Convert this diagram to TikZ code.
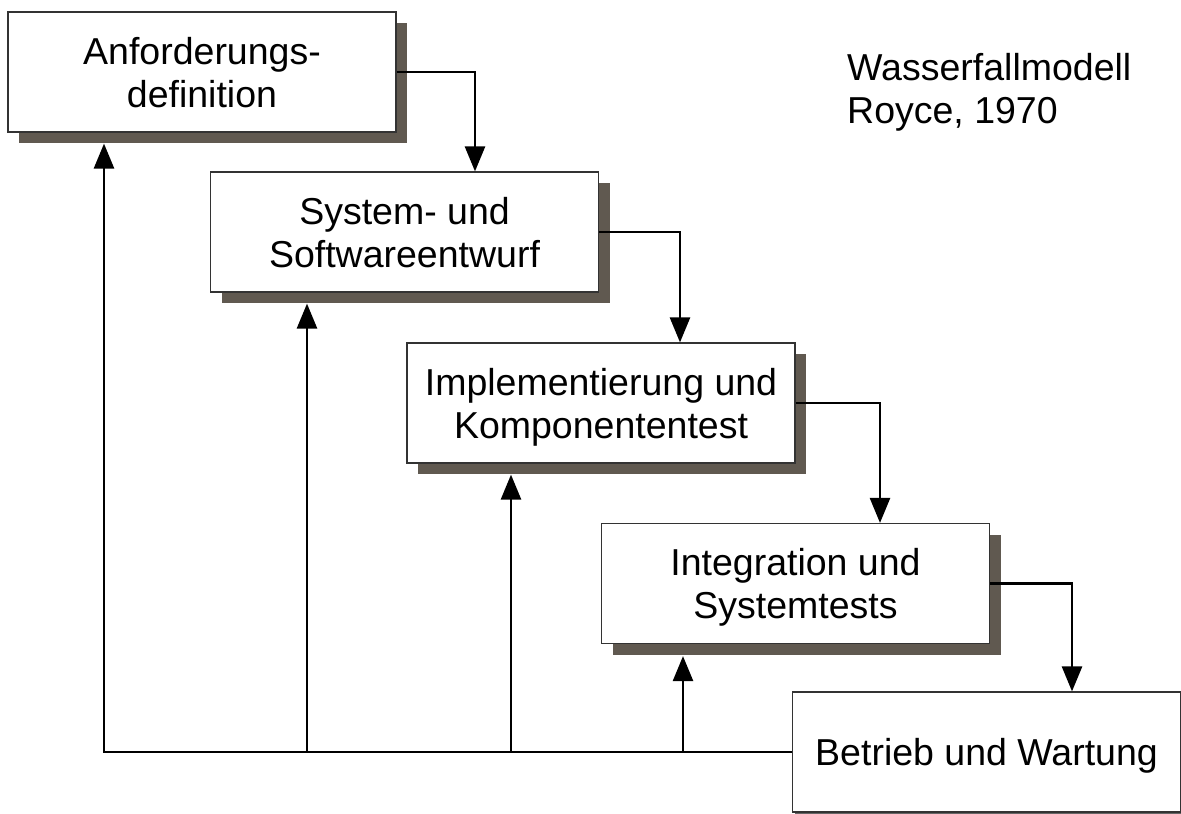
\documentclass[tikz,border=0pt]{standalone}
\usepackage{fontspec}
\setmainfont{Liberation Sans}
\usetikzlibrary{arrows.meta,shadows,calc}
\definecolor{shadowc}{RGB}{96,89,80}
\begin{document}
\begin{tikzpicture}[x=1pt,y=-1pt,
  phase/.style={draw=black!80, line width=1.2pt, fill=white, inner sep=0pt,
    minimum width=388pt, minimum height=120pt, align=center, text depth=0pt,
    font=\fontsize{37.5}{43}\selectfont},
  shadowed/.style={drop shadow={shadow xshift=11pt, shadow yshift=-11pt, fill=shadowc, opacity=1, draw=none}},
  conn/.style={line width=2.6pt, -{Triangle[length=25pt,width=20pt]}},
  plain/.style={line width=2.6pt}]
\useasboundingbox (0,0) rectangle (1181,814);
\node[phase,shadowed] (b1) at (202,72) {Anforderungs-\\definition};
\node[phase,shadowed] (b2) at (404.5,232) {System- und\\Softwareentwurf};
\node[phase,shadowed] (b3) at (601,403) {Implementierung und\\Komponententest};
\node[phase,shadowed] (b4) at (795.5,583.5) {Integration und\\Systemtests};
\node[phase,drop shadow={shadow xshift=2pt, shadow yshift=-2pt, fill=black!60, opacity=1, draw=none}] (b5) at (986.5,752) {Betrieb und Wartung};
\node[anchor=north west, inner sep=0pt, align=left, font=\fontsize{37.5}{43}\selectfont] (title) at (847,53) {Wasserfallmodell\\Royce, 1970};
% forward connectors
\coordinate (k1) at (475,0);
\coordinate (k2) at (680,0);
\coordinate (k3) at (880,0);
\coordinate (k4) at (1072,0);
\draw[conn] (b1.east) -| (k1 |- b2.north);
\draw[conn] (b2.east) -| (k2 |- b3.north);
\draw[conn] (b3.east) -| (k3 |- b4.north);
\draw[conn] (b4.east) -| (k4 |- b5.north);
% feedback
\coordinate (f1) at (104,752);
\coordinate (f2) at (307,752);
\coordinate (f3) at (511,752);
\coordinate (f4) at (683,752);
\draw[plain] (b5.west) -- ([xshift=-1.3pt]f1);
\draw[conn] (f1) -- ($(f1 |- b1.south)+(0,11)$);
\draw[conn] (f2) -- ($(f2 |- b2.south)+(0,11)$);
\draw[conn] (f3) -- ($(f3 |- b3.south)+(0,11)$);
\draw[conn] (f4) -- ($(f4 |- b4.south)+(0,12)$);
\end{tikzpicture}
\end{document}
